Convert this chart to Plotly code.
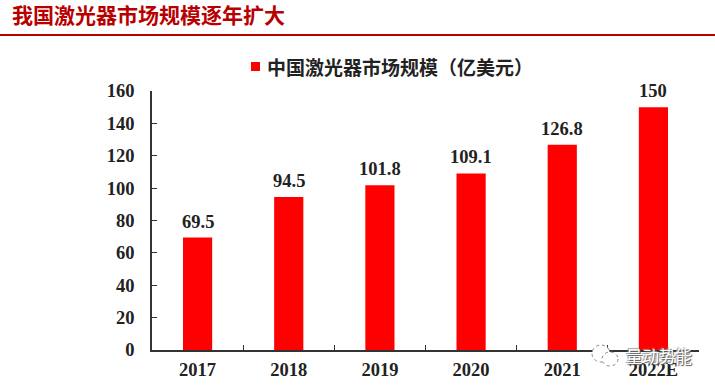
import plotly.graph_objects as go

categories = ["2017", "2018", "2019", "2020", "2021", "2022E"]
values = [69.5, 94.5, 101.8, 109.1, 126.8, 150]
labels = ["69.5", "94.5", "101.8", "109.1", "126.8", "150"]
y_ticks = [0, 20, 40, 60, 80, 100, 120, 140, 160]
series_name = "中国激光器市场规模（亿美元）"
chart_title = "我国激光器市场规模逐年扩大"
watermark = "量动势能"

SERIF = "Liberation Serif, serif"
CJK = "Noto Sans CJK SC, sans-serif"
INK = "#222222"
AXIS = "#333333"
W, H = 715, 387
L, R, T, B = 152, 699, 91, 350
PW, PH = R - L, B - T


def px(x):
    return (x - L) / PW


def py(y):
    return (B - y) / PH


fig = go.Figure(go.Bar(
    x=categories, y=values, name=series_name,
    marker=dict(color="#FF0000", line=dict(width=0)),
    cliponaxis=False, showlegend=False,
))

# On a category axis, annotation x is the category's index.
value_labels = [
    dict(text=f"<b>{t}</b>", x=i, y=v, xref="x", yref="y", yshift=16, showarrow=False,
         xanchor="center", yanchor="middle", font=dict(family=SERIF, size=18.5, color=INK))
    for i, (v, t) in enumerate(zip(values, labels))
]

fig.update_layout(
    width=W, height=H, autosize=False,
    paper_bgcolor="white", plot_bgcolor="white",
    margin=dict(l=L, r=W - R, t=T, b=H - B, autoexpand=False),
    bargap=0.68,
    title=dict(text=f"<b>{chart_title}</b>", x=12 / W, xanchor="left", xref="container",
               y=1 - 16 / H, yanchor="middle", yref="container",
               font=dict(family=CJK, size=21, color="#B80000")),
    xaxis=dict(type="category", categoryorder="array", categoryarray=categories,
               tickson="boundaries", ticks="inside", ticklen=5, tickwidth=1,
               tickcolor=AXIS, showline=True, linecolor=AXIS, linewidth=1.5,
               showgrid=False, zeroline=False, fixedrange=True, tickangle=0,
               tickfont=dict(family=SERIF, size=18.5, color=INK, weight="bold"),
               ticklabelstandoff=2),
    yaxis=dict(range=[0, 160], tickvals=y_ticks, ticks="inside", ticklen=5, tickwidth=1,
               tickcolor=AXIS, showline=True, linecolor=AXIS, linewidth=1.5,
               showgrid=False, zeroline=False, fixedrange=True,
               tickfont=dict(family=SERIF, size=18.5, color=INK, weight="bold"),
               ticklabelstandoff=12),
    shapes=[
        dict(type="line", xref="paper", yref="paper", x0=px(0), x1=px(W),
             y0=py(35), y1=py(35), line=dict(color="#B80000", width=2)),
        dict(type="rect", xref="paper", yref="paper", x0=px(251), x1=px(260),
             y0=py(71), y1=py(62), fillcolor="#FF0000", line=dict(width=0)),
        dict(type="circle", xref="paper", yref="paper", x0=px(592), x1=px(610),
             y0=py(362), y1=py(345), fillcolor="white",
             line=dict(color="#888888", width=1, dash="dot")),
        dict(type="circle", xref="paper", yref="paper", x0=px(602), x1=px(618),
             y0=py(366), y1=py(352), fillcolor="white",
             line=dict(color="#888888", width=1, dash="dot")),
    ],
    annotations=value_labels + [
        dict(text=f"<b>{series_name}</b>", xref="paper", yref="paper", x=px(265), y=py(66),
             showarrow=False, xanchor="left", yanchor="middle",
             font=dict(family=CJK, size=19, color=INK)),
        dict(text=watermark, xref="paper", yref="paper", x=px(659), y=py(356),
             showarrow=False, xanchor="center", yanchor="middle",
             font=dict(family=CJK, size=16.5, color="white",
                       shadow="1px 1px 1px #555555, -1px -1px 1px #999999")),
    ],
)
fig.write_html("out.html", config=dict(displayModeBar=False),
               post_script="document.body.style.margin='0';")
